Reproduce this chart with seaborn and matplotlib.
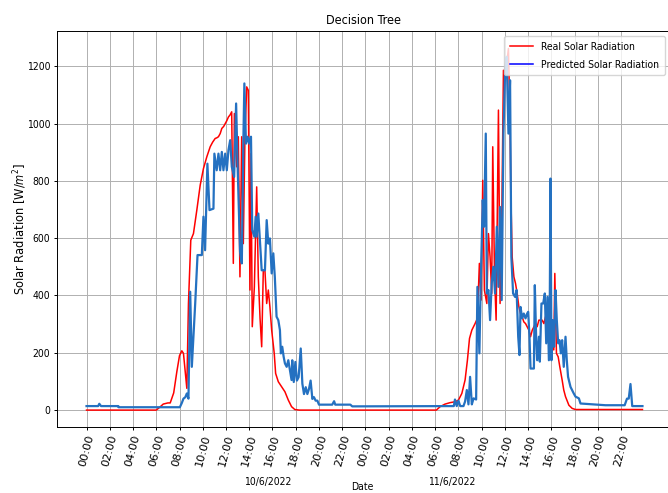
import matplotlib
matplotlib.use('Agg')
import matplotlib.pyplot as plt
import matplotlib.dates as mdates
from matplotlib import font_manager
from matplotlib.lines import Line2D
import pandas as pd
import seaborn as sns

# Values, hours counted from 10/6/2022 00:00
real_hours = [0, 6.0, 6.3, 6.6, 7.0, 7.2, 7.5, 7.77, 8.0, 8.2, 8.34, 8.5, 8.63, 8.77,
              8.97, 9.2, 9.49, 9.78, 10.06, 10.35, 10.64, 10.85, 11.07, 11.2, 11.35,
              11.5, 11.64, 11.8, 11.93, 12.07, 12.21, 12.35, 12.49, 12.63, 12.72,
              12.92, 13.06, 13.2, 13.35, 13.49, 13.63, 13.78, 13.92, 14.06, 14.15,
              14.26, 14.44, 14.64, 14.78, 14.93, 15.07, 15.21, 15.35, 15.5, 15.64,
              15.78, 15.93, 16.15, 16.27, 16.5, 16.79, 17.07, 17.36, 17.64, 17.92,
              18.3, 30.1, 30.42, 30.85, 31.28, 31.7, 32.0, 32.29, 32.57, 32.77, 32.95,
              33.15, 33.43, 33.63, 33.8, 33.95, 34.09, 34.23, 34.44, 34.58, 34.72,
              34.86, 34.95, 35.1, 35.24, 35.44, 35.58, 35.72, 35.87, 36.01, 36.15,
              36.3, 36.44, 36.5, 36.62, 36.77, 36.91, 37.05, 37.2, 37.34, 37.48,
              37.62, 37.77, 38.06, 38.2, 38.35, 38.63, 38.77, 38.92, 39.2, 39.35,
              39.49, 39.63, 39.78, 39.92, 40.06, 40.2, 40.29, 40.43, 40.58, 40.72,
              40.92, 41.06, 41.21, 41.5, 41.78, 42.07, 47.83]
real_values = [0, 0, 10, 21, 25, 25, 60, 134, 190, 207, 198, 130, 76, 372,
               593, 616, 698, 785, 843, 884, 919, 935, 948, 950, 954,
               965, 983, 990, 1000, 1010, 1023, 1030, 1041, 512, 1035,
               849, 954, 465, 954, 581, 954, 1128, 1116, 419, 895,
               291, 430, 779, 465, 320, 221, 488, 488, 372, 419,
               360, 279, 198, 128, 99, 81, 64, 35, 12, 2,
               0, 0, 12, 21, 26, 29, 35, 58, 105, 174, 250,
               279, 302, 320, 512, 384, 802, 419, 372, 616, 535,
               407, 919, 477, 314, 1047, 372, 640, 1186, 1175, 1210,
               1262, 1000, 768, 535, 465, 442, 407, 360, 337, 326,
               308, 302, 279, 256, 279, 302, 291, 314, 314, 302,
               326, 314, 256, 198, 314, 210, 477, 198, 186, 151,
               105, 70, 47, 17, 6, 2, 2]

pred_hours = [0, 1.0, 1.1, 1.25, 2.74, 2.75, 8.03, 8.2, 8.34, 8.5, 8.63, 8.77, 8.92,
              9.06, 9.2, 9.35, 9.55, 9.92, 10.06, 10.2, 10.29, 10.4, 10.58, 10.92,
              11.0, 11.2, 11.35, 11.5, 11.64, 11.78, 11.93, 12.07, 12.21, 12.36,
              12.5, 12.7, 12.87, 13.01, 13.21, 13.36, 13.5, 13.58, 13.72, 13.86,
              14.0, 14.15, 14.26, 14.44, 14.55, 14.64, 14.78, 14.93, 15.07, 15.21,
              15.35, 15.5, 15.64, 15.78, 15.93, 16.07, 16.2, 16.35, 16.5, 16.64,
              16.72, 16.84, 16.96, 17.07, 17.22, 17.36, 17.5, 17.64, 17.7, 17.83,
              17.97, 18.1, 18.25, 18.43, 18.57, 18.71, 18.86, 19.0, 19.14, 19.28,
              19.43, 19.57, 19.71, 19.86, 20.0, 21.14, 21.3, 21.4, 22.7, 22.86,
              31.6, 31.7, 31.85, 32.0, 32.15, 32.43, 32.57, 32.72, 32.86, 33.0,
              33.15, 33.3, 33.52, 33.63, 33.8, 33.92, 34.09, 34.2, 34.35, 34.44,
              34.58, 34.72, 34.86, 35.0, 35.15, 35.3, 35.44, 35.58, 35.72, 35.87,
              36.01, 36.15, 36.3, 36.44, 36.55, 36.7, 36.87, 37.0, 37.14, 37.25,
              37.34, 37.48, 37.62, 37.77, 37.91, 38.0, 38.11, 38.2, 38.49, 38.57,
              38.69, 38.77, 38.92, 39.0, 39.14, 39.29, 39.43, 39.55, 39.66, 39.78,
              39.86, 39.92, 40.0, 40.11, 40.23, 40.35, 40.46, 40.58, 40.69, 40.81,
              40.92, 41.06, 41.21, 41.32, 41.43, 41.64, 41.92, 42.07, 42.36, 42.5,
              44.65, 46.3, 46.5, 46.65, 46.8, 46.95, 47.83]
pred_values = [14, 14, 22, 14, 14, 10, 10, 25, 40, 45, 58, 40, 413,
               151, 260, 372, 541, 541, 675, 558, 698, 860, 698, 703,
               895, 837, 895, 837, 901, 837, 895, 837, 907, 942,
               849, 814, 1070, 837, 552, 512, 954, 1140, 930, 954,
               930, 954, 628, 605, 675, 605, 686, 581, 488, 488,
               488, 663, 581, 599, 477, 547, 465, 326, 314, 279,
               198, 221, 186, 163, 151, 174, 140, 105, 174, 98,
               168, 103, 115, 215, 92, 56, 80, 56, 74, 103,
               39, 45, 33, 33, 19, 19, 31, 19, 19, 13,
               14, 37, 14, 33, 14, 14, 30, 70, 20, 116,
               20, 41, 37, 430, 198, 454, 733, 640, 965, 407,
               419, 314, 442, 500, 407, 640, 430, 709, 384, 965,
               1175, 1233, 965, 1151, 535, 407, 395, 419, 256, 192,
               360, 320, 337, 320, 337, 343, 256, 145, 145, 436,
               244, 174, 256, 169, 372, 372, 407, 233, 395, 174,
               395, 808, 174, 314, 221, 419, 314, 233, 244, 198,
               244, 151, 256, 174, 116, 81, 58, 47, 41, 23,
               17, 17, 40, 40, 91, 14, 14]

day_labels = ['10/6/2022', '11/6/2022']

start = pd.Timestamp('2022-06-10')
real = pd.DataFrame({'time': start + pd.to_timedelta(real_hours, unit='h'),
                     'radiation': real_values})
pred = pd.DataFrame({'time': start + pd.to_timedelta(pred_hours, unit='h'),
                     'radiation': pred_values})

# the reference text is narrow and tall: use condensed DejaVu when it is there
has_condensed = any(f.name == 'DejaVu Sans' and f.stretch == 'condensed'
                    for f in font_manager.fontManager.ttflist)
hsize = 7.5 if has_condensed else 6.8
plt.rcParams['font.family'] = 'DejaVu Sans'
plt.rcParams['font.stretch'] = 'condensed'
plt.rcParams['font.size'] = hsize

fig = plt.figure(figsize=(6.68, 4.93), dpi=100)
ax = fig.add_axes([57 / 668, 66 / 493, 613 / 668, 396 / 493])

sns.lineplot(data=real, x='time', y='radiation', color='red', linewidth=1.1, ax=ax)
sns.lineplot(data=pred, x='time', y='radiation', color='#2471c1', linewidth=1.6, ax=ax)

# ticks every two hours over the data range
tick_times = pd.date_range(start, real['time'].max(), freq='2h')
ax.set_xticks(mdates.date2num(tick_times))
ax.xaxis.set_major_formatter(mdates.DateFormatter('%H:%M'))
ax.set_yticks(range(0, 1201, 200))
plt.setp(ax.get_xticklabels(), rotation=75, fontsize=8.1, fontstretch='normal')

ax.set_xlim(mdates.date2num(start - pd.Timedelta(hours=2.54)),
            mdates.date2num(start + pd.Timedelta(hours=50.2)))
ax.set_ylim(-59, 1323)

ax.grid(True, color='#b0b0b0', linewidth=0.7)
for s in ax.spines.values():
    s.set_linewidth(0.7)
ax.tick_params(width=0.7, length=2.5, pad=2.5)

ax.set_title('Decision Tree', pad=5)
ax.set_ylabel('Solar Radiation [W/$m^2$]', fontsize=8.3, fontstretch='normal')
ax.yaxis.set_label_coords(-0.046, 0.5)
ax.set_xlabel('Date')
ax.xaxis.set_label_coords((362 - 57) / 613, (427 - 482) / 396)

fig.text(268 / 668, 1 - 482 / 493, day_labels[0], ha='center', va='center')
fig.text(452 / 668, 1 - 482 / 493, day_labels[1], ha='center', va='center')

handles = [Line2D([], [], color='red', lw=1.1, label='Real Solar Radiation'),
           Line2D([], [], color='blue', lw=1.1, label='Predicted Solar Radiation')]
ax.legend(handles=handles, loc='upper right', handlelength=2.2,
          labelspacing=0.75, borderpad=0.55)

fig.savefig('out.png', dpi=100)
